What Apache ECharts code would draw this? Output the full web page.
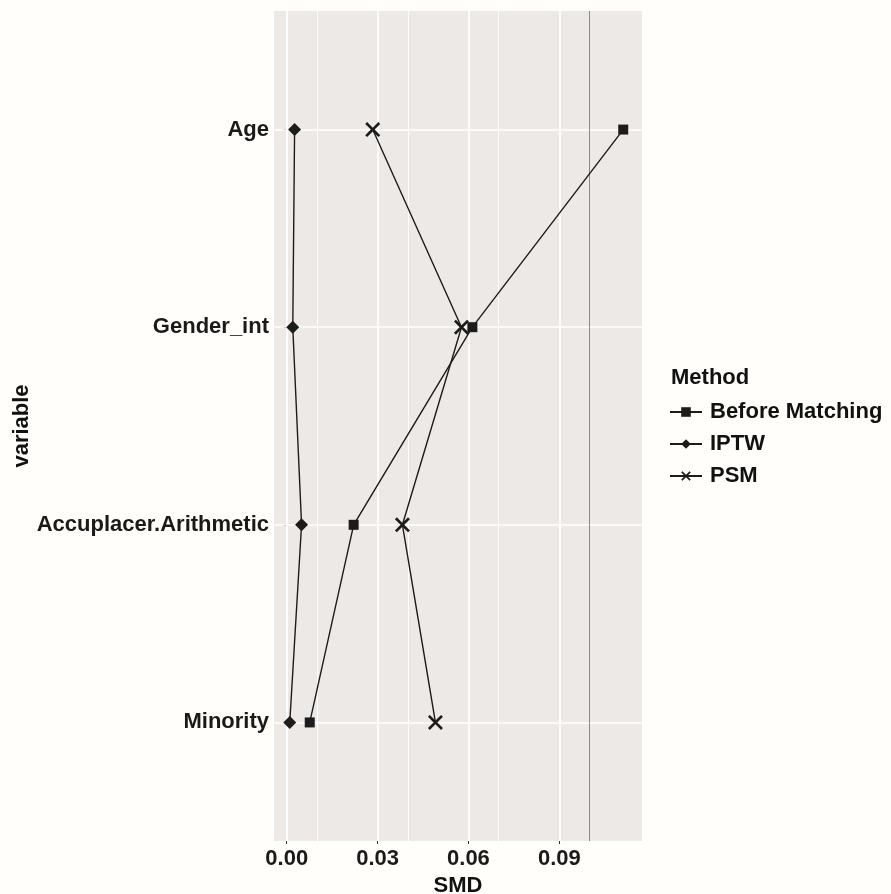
<!DOCTYPE html>
<html>
<head>
<meta charset="utf-8">
<script src="https://cdn.jsdelivr.net/npm/echarts@6/dist/echarts.min.js"></script>
<style>
html,body{margin:0;padding:0;background:#fffefb;}
#chart{width:891px;height:894px;}
</style>
</head>
<body>
<div id="chart"></div>
<script>
// ---- data ----
var categories = ['Age', 'Gender_int', 'Accuplacer.Arithmetic', 'Minority'];
var methods = ['Before Matching', 'IPTW', 'PSM'];
var beforeMatching = [0.1111, 0.0613, 0.0221, 0.0076];
var iptw = [0.0026, 0.0020, 0.0049, 0.0010];
var psm = [0.0284, 0.0577, 0.0382, 0.0491];
var xTicks = [0.00, 0.03, 0.06, 0.09];
var xMinor = [0.015, 0.045, 0.075, 0.105];
var refLine = 0.1;

// ---- build ----
var n = categories.length;
function yPos(i) { return n - i; }   // Age at top
function pairs(vals) { return vals.map(function (v, i) { return [v, yPos(i)]; }); }

var xPath = 'path://M0,2.5L2.5,0L10,7.5L17.5,0L20,2.5L12.5,10L20,17.5L17.5,20L10,12.5L2.5,20L0,17.5L7.5,10Z';
var ink = '#1c1c1c';
var font = 'Liberation Sans, Arial, sans-serif';
var txt = { fontFamily: font, fontSize: 22, fontWeight: 'bold', color: '#1a1a1a' };
function T(extra) { var o = {}; for (var k in txt) o[k] = txt[k]; for (var k2 in extra) o[k2] = extra[k2]; return o; }

var gridLines = [];
xTicks.forEach(function (v) { gridLines.push({ xAxis: v, lineStyle: { width: 1.7 } }); });
xMinor.forEach(function (v) { gridLines.push({ xAxis: v, lineStyle: { width: 0.9 } }); });
categories.forEach(function (c, i) { gridLines.push({ yAxis: yPos(i), lineStyle: { width: 1.7 } }); });

function mk(name, vals, symbol, size) {
  return {
    name: name, type: 'line', data: pairs(vals), z: 5,
    symbol: symbol, symbolSize: size, showSymbol: true,
    lineStyle: { color: ink, width: 1.4 },
    itemStyle: { color: ink },
    emphasis: { disabled: true },
    animation: false
  };
}

var yVals = categories.map(function (c, i) { return yPos(i); });

var chart = echarts.init(document.getElementById('chart'), null, { renderer: 'canvas' });
chart.setOption({
  backgroundColor: '#fffefb',
  animation: false,
  title: {
    text: 'Method', left: 671, top: 367, padding: 0,
    textStyle: T({ color: '#111' })
  },
  legend: {
    orient: 'vertical', left: 669, top: 401, padding: 0,
    itemWidth: 32, itemHeight: 12, itemGap: 10,
    data: methods,
    textStyle: T({ color: '#111', lineHeight: 22, padding: [0, 0, 0, 3] })
  },
  grid: { left: 274, right: 249, top: 11, bottom: 53, show: true, backgroundColor: '#ece9e7', borderWidth: 0,
    containLabel: false, outerBoundsMode: 'none' },
  xAxis: {
    type: 'value', min: -0.0042, max: 0.1173,
    name: 'SMD', nameLocation: 'middle', nameGap: 33,
    nameTextStyle: T({ color: '#111' }),
    axisLine: { show: false },
    axisTick: { show: true, length: 3, lineStyle: { color: '#333' }, customValues: xTicks },
    axisLabel: T({ customValues: xTicks, margin: 7,
      formatter: function (v) { return v.toFixed(2); } }),
    splitLine: { show: false }
  },
  yAxis: {
    type: 'value', min: 0.4, max: n + 0.6,
    name: 'variable', nameLocation: 'middle', nameRotate: 90, nameGap: 241,
    nameTextStyle: T({ color: '#111' }),
    axisLine: { show: false },
    axisTick: { show: true, length: 3, lineStyle: { color: '#333' }, customValues: yVals },
    axisLabel: T({ customValues: yVals, margin: 5,
      formatter: function (v) { return categories[n - Math.round(v)] || ''; } }),
    splitLine: { show: false }
  },
  series: [
    {
      type: 'scatter', data: [], z: 1, silent: true,
      markLine: {
        silent: true, symbol: 'none', animation: false,
        label: { show: false },
        lineStyle: { color: '#ffffff', type: 'solid', width: 1 },
        data: gridLines
      }
    },
    {
      type: 'scatter', data: [], z: 2, silent: true,
      markLine: {
        silent: true, symbol: 'none', animation: false,
        label: { show: false },
        lineStyle: { color: '#8a8a8a', type: 'solid', width: 1 },
        data: [{ xAxis: refLine }]
      }
    },
    mk('Before Matching', beforeMatching, 'rect', 10),
    mk('IPTW', iptw, 'diamond', 13),
    mk('PSM', psm, xPath, 15)
  ]
});
</script>
</body>
</html>
